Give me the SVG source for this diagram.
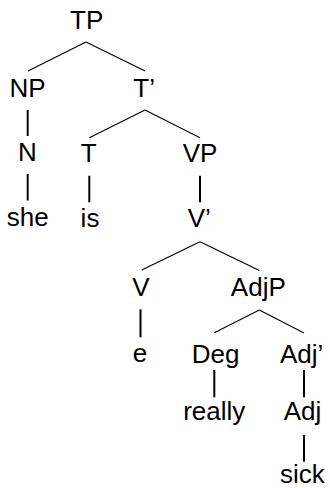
<svg xmlns="http://www.w3.org/2000/svg" width="330" height="488" viewBox="0 0 330 488">
<style>
text{font-family:"Liberation Sans",Arial,sans-serif;font-size:26px;fill:#000;text-anchor:middle}
.d{stroke:#000;stroke-width:1.1;fill:none}
.v{stroke:#000;stroke-width:2;fill:none}
</style>
<rect width="330" height="488" fill="#fff"/>
<g id="connectors">
<line class="d" x1="86" y1="42" x2="28" y2="71"/>
<line class="d" x1="86" y1="42" x2="145" y2="71"/>
<line class="v" x1="27.7" y1="110" x2="27.7" y2="136"/>
<line class="d" x1="145" y1="110" x2="89.3" y2="137.7"/>
<line class="d" x1="145" y1="110" x2="200" y2="137.7"/>
<line class="v" x1="27.7" y1="174" x2="27.7" y2="200.5"/>
<line class="v" x1="89.3" y1="175.7" x2="89.3" y2="202.3"/>
<line class="v" x1="200" y1="175.7" x2="200" y2="202.3"/>
<line class="d" x1="200" y1="241.7" x2="141.7" y2="270"/>
<line class="d" x1="200" y1="241.7" x2="259.3" y2="270.5"/>
<line class="v" x1="140.5" y1="309.3" x2="140.5" y2="337.3"/>
<line class="d" x1="259.3" y1="310" x2="214.3" y2="332.7"/>
<line class="d" x1="259.3" y1="310" x2="304" y2="333"/>
<line class="v" x1="214.3" y1="370" x2="214.3" y2="397.3"/>
<line class="v" x1="304" y1="370" x2="304" y2="397.3"/>
<line class="v" x1="304" y1="435" x2="304" y2="461.7"/>
</g>
<g id="TP"><text x="86.7" y="29">TP</text></g>
<g id="NP"><text x="27.5" y="97">NP</text></g>
<g id="T-bar"><text x="144.2" y="97">T’</text></g>
<g id="N"><text x="27.5" y="161">N</text></g>
<g id="T"><text x="88.8" y="161.5">T</text></g>
<g id="VP"><text x="200" y="161.5">VP</text></g>
<g id="she"><text x="27.8" y="226">she</text></g>
<g id="is"><text x="90" y="227">is</text></g>
<g id="V-bar"><text x="199.2" y="226.5">V’</text></g>
<g id="V"><text x="141" y="295.5">V</text></g>
<g id="AdjP"><text x="258.3" y="295.5">AdjP</text></g>
<g id="e"><text x="140" y="361.5">e</text></g>
<g id="Deg"><text x="215.5" y="363">Deg</text></g>
<g id="Adj-bar"><text x="301.7" y="363">Adj’</text></g>
<g id="really"><text x="214.2" y="420">really</text></g>
<g id="Adj"><text x="302.5" y="420">Adj</text></g>
<g id="sick"><text x="302.3" y="483">sick</text></g>
</svg>
